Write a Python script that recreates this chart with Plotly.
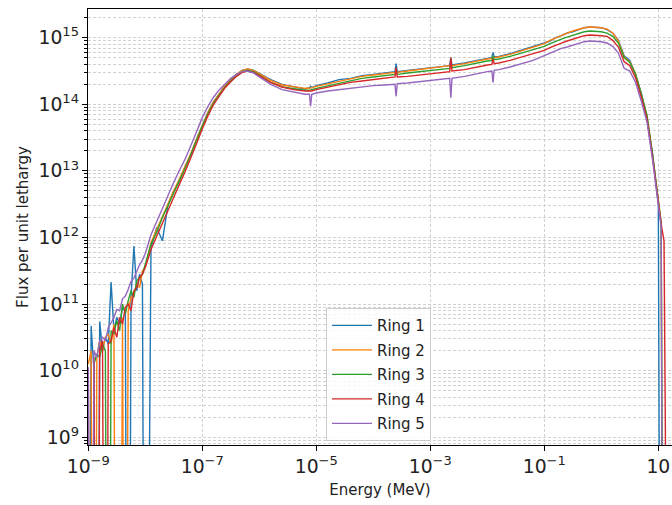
import plotly.graph_objects as go

# Energy group points (MeV)
energy = [
    # 1e-9 .. 1e-8 (fine)
    1.000e-9, 1.122e-9, 1.259e-9, 1.413e-9, 1.585e-9, 1.778e-9, 1.995e-9,
    2.239e-9, 2.512e-9, 2.818e-9, 3.162e-9, 3.548e-9, 3.981e-9, 4.467e-9,
    5.012e-9, 5.623e-9, 6.310e-9, 7.079e-9, 7.943e-9, 8.913e-9, 1.000e-8,
    # thermal rise / peak
    1.259e-8, 1.585e-8, 1.995e-8, 2.512e-8, 3.162e-8, 3.981e-8, 5.012e-8,
    6.310e-8, 7.943e-8, 1.000e-7, 1.259e-7, 1.585e-7, 1.995e-7, 2.512e-7,
    3.162e-7, 3.981e-7, 5.012e-7, 6.310e-7, 7.943e-7, 1.000e-6,
    # epithermal plateau
    1.585e-6, 2.512e-6, 3.981e-6, 6.310e-6, 7.586e-6, 7.943e-6, 8.318e-6,
    1.000e-5, 1.585e-5, 2.512e-5, 3.981e-5, 6.310e-5, 1.000e-4, 1.585e-4,
    2.399e-4, 2.512e-4, 2.630e-4, 3.981e-4, 6.310e-4, 1.000e-3, 1.585e-3,
    2.188e-3, 2.291e-3, 2.399e-3, 3.981e-3, 6.310e-3, 1.000e-2, 1.202e-2,
    1.259e-2, 1.318e-2, 1.585e-2, 2.512e-2, 3.981e-2, 6.310e-2,
    # fast peak and tail
    0.1000, 0.1259, 0.1585, 0.1995, 0.2512, 0.3162, 0.3981, 0.5012, 0.6310,
    0.7943, 1.000, 1.259, 1.585, 1.995, 2.512, 3.162, 3.981, 5.012, 6.310,
    7.943, 10.00,
    11.22, 12.59, 14.13, 15.85,
]

# log10 of flux per unit lethargy (0 = empty bin)
ring1_log10 = [
    0, 10.67, 10.0, 0, 10.74, 10.3, 10.5, 10.4, 11.33, 10.6, 10.8,
    10.7, 10.95, 10.9, 0, 11.1, 11.87, 11.2, 11.45, 11.3, 0,
    11.85, 12.15, 11.95, 12.5, 12.7, 12.85, 13.07, 13.24, 13.48, 13.68,
    13.88, 14.04, 14.17, 14.28, 14.37, 14.45, 14.51, 14.53, 14.51, 14.46,
    14.37, 14.30, 14.27, 14.23, 14.25, 14.27, 14.25, 14.28, 14.32, 14.37,
    14.39, 14.43, 14.45, 14.47, 14.49, 14.61, 14.49, 14.51, 14.53, 14.55,
    14.57, 14.58, 14.70, 14.59, 14.62, 14.66, 14.69, 14.70, 14.78, 14.71,
    14.72, 14.76, 14.81, 14.86,
    14.92, 14.95, 15.00, 15.03, 15.07, 15.09, 15.12, 15.15, 15.16, 15.15,
    15.15, 15.12, 15.07, 14.96, 14.73, 14.66, 14.44, 14.17, 13.80, 13.25,
    12.50,
    0, 0, 0, 0,
]
ring2_log10 = [
    10.1, 10.3, 0, 10.2, 10.45, 10.3, 10.5, 10.55, 10.4, 10.7, 0,
    0, 10.8, 0, 10.9, 11.1, 11.15, 11.3, 11.25, 11.5, 11.55,
    11.92, 12.12, 12.32, 12.52, 12.7, 12.88, 13.06, 13.26, 13.48, 13.69,
    13.88, 14.04, 14.17, 14.28, 14.37, 14.45, 14.51, 14.53, 14.51, 14.46,
    14.36, 14.29, 14.26, 14.24, 14.24, 14.25, 14.25, 14.27, 14.31, 14.35,
    14.39, 14.42, 14.44, 14.46, 14.48, 14.50, 14.48, 14.50, 14.52, 14.54,
    14.56, 14.58, 14.60, 14.58, 14.61, 14.65, 14.68, 14.69, 14.72, 14.70,
    14.71, 14.75, 14.80, 14.85,
    14.91, 14.96, 15.00, 15.04, 15.07, 15.10, 15.13, 15.15, 15.16, 15.16,
    15.15, 15.13, 15.07, 14.95, 14.71, 14.64, 14.46, 14.15, 13.83, 13.22,
    12.56,
    12.22, 0, 0, 0,
]
ring3_log10 = [
    9.9, 0, 10.1, 10.25, 10.2, 10.4, 10.3, 0, 10.6, 10.55, 10.75,
    10.6, 11.0, 10.85, 11.05, 11.2, 11.1, 11.35, 11.4, 11.45, 11.6,
    11.9, 12.08, 12.3, 12.48, 12.68, 12.86, 13.04, 13.24, 13.46, 13.67,
    13.86, 14.02, 14.15, 14.26, 14.35, 14.43, 14.49, 14.51, 14.49, 14.44,
    14.33, 14.26, 14.23, 14.21, 14.21, 14.22, 14.22, 14.24, 14.28, 14.32,
    14.36, 14.39, 14.41, 14.43, 14.45, 14.50, 14.45, 14.47, 14.49, 14.51,
    14.53, 14.54, 14.60, 14.55, 14.58, 14.62, 14.65, 14.66, 14.73, 14.67,
    14.68, 14.72, 14.77, 14.82,
    14.87, 14.91, 14.95, 14.98, 15.01, 15.04, 15.07, 15.09, 15.10, 15.10,
    15.09, 15.07, 15.02, 14.92, 14.70, 14.63, 14.46, 14.16, 13.84, 13.24,
    12.57,
    12.22, 0, 0, 0,
]
ring4_log10 = [
    10.0, 0, 10.2, 0, 10.3, 10.45, 0, 10.4, 10.45, 10.65, 10.5,
    10.8, 10.7, 10.95, 11.0, 10.9, 11.2, 11.25, 11.4, 11.45, 11.55,
    11.82, 12.02, 12.22, 12.42, 12.62, 12.8, 12.99, 13.19, 13.41, 13.63,
    13.83, 14.0, 14.13, 14.25, 14.34, 14.42, 14.48, 14.5, 14.48, 14.43,
    14.33, 14.26, 14.22, 14.20, 14.20, 14.20, 14.20, 14.22, 14.26, 14.29,
    14.33, 14.35, 14.37, 14.39, 14.41, 14.55, 14.41, 14.42, 14.44, 14.46,
    14.48, 14.49, 14.70, 14.50, 14.52, 14.56, 14.59, 14.60, 14.68, 14.61,
    14.62, 14.66, 14.71, 14.76,
    14.81, 14.85, 14.89, 14.92, 14.95, 14.98, 15.01, 15.03, 15.04, 15.04,
    15.03, 15.02, 14.96, 14.86, 14.64, 14.58, 14.40, 14.11, 13.79, 13.20,
    12.53,
    12.20, 11.95, 0, 0,
]
ring5_log10 = [
    10.05, 0, 10.3, 10.2, 10.45, 10.5, 10.45, 10.65, 10.72, 10.8, 10.92,
    10.9, 11.08, 11.12, 11.22, 11.34, 11.39, 11.49, 11.59, 11.66, 11.76,
    12.04, 12.24, 12.44, 12.64, 12.83, 13.01, 13.18, 13.38, 13.59, 13.80,
    13.97, 14.11, 14.22, 14.31, 14.39, 14.45, 14.49, 14.50, 14.47, 14.41,
    14.30, 14.22, 14.18, 14.15, 14.15, 13.97, 14.15, 14.17, 14.20, 14.22,
    14.25, 14.27, 14.28, 14.29, 14.30, 14.12, 14.31, 14.32, 14.34, 14.36,
    14.37, 14.39, 14.10, 14.39, 14.42, 14.46, 14.49, 14.50, 14.33, 14.51,
    14.52, 14.56, 14.61, 14.66,
    14.73, 14.77, 14.80, 14.84, 14.86, 14.89, 14.92, 14.94, 14.95, 14.95,
    14.94, 14.92, 14.87, 14.77, 14.54, 14.50, 14.33, 14.05, 13.74, 13.16,
    12.50,
    12.15, 0, 0, 0,
]

ring_names = ["Ring 1", "Ring 2", "Ring 3", "Ring 4", "Ring 5"]
ring_values = [ring1_log10, ring2_log10, ring3_log10, ring4_log10, ring5_log10]
ring_colors = ["#1f77b4", "#ff7f0e", "#2ca02c", "#d62728", "#9467bd"]

FONT = "DejaVu Sans"
GRID = "#d2d2d2"
DASH = "3px,2px"

fig = go.Figure()
for name, vals, col in zip(ring_names, ring_values, ring_colors):
    flux = [10 ** v for v in vals]
    fig.add_trace(go.Scatter(
        x=energy, y=flux, mode="lines", name=name, legendgroup=name,
        line=dict(color=col, width=1.4),
    ))

fig.update_layout(
    width=672, height=505,
    margin=dict(l=88, r=0, t=9, b=60),
    paper_bgcolor="white", plot_bgcolor="white",
    font=dict(family=FONT, size=15, color="#222222"),
    showlegend=True,
    legend=dict(
        x=0.4075, y=0.314, xanchor="left", yanchor="top",
        bgcolor="rgba(255,255,255,0.85)", bordercolor="#cccccc", borderwidth=1,
        font=dict(family=FONT, size=15, color="#222222"),
        tracegroupgap=2, itemwidth=40,
    ),
)
fig.update_xaxes(
    type="log", range=[-9.005, 1.24],
    dtick=2, tick0=-9, exponentformat="power",
    showline=True, linecolor="black", linewidth=1, mirror=True,
    ticks="outside", ticklen=5, tickcolor="black",
    showgrid=True, gridcolor=GRID, griddash=DASH, gridwidth=0.8,
    tickfont=dict(family=FONT, size=15, color="#222222"),
    title=dict(text="Energy (MeV)", font=dict(family=FONT, size=15, color="#222222"), standoff=8),
)
fig.update_yaxes(
    type="log", range=[8.884, 15.431],
    dtick=1, exponentformat="power",
    showline=True, linecolor="black", linewidth=1, mirror=False,
    ticks="outside", ticklen=5, tickcolor="black",
    showgrid=True, gridcolor=GRID, griddash=DASH, gridwidth=0.8,
    minor=dict(dtick="D1", ticks="outside", ticklen=3, tickcolor="black",
               showgrid=True, gridcolor=GRID, griddash=DASH, gridwidth=0.8),
    tickfont=dict(family=FONT, size=15, color="#222222"),
    title=dict(text="Flux per unit lethargy", font=dict(family=FONT, size=15, color="#222222"), standoff=6),
)

fig.write_html("out.html")
